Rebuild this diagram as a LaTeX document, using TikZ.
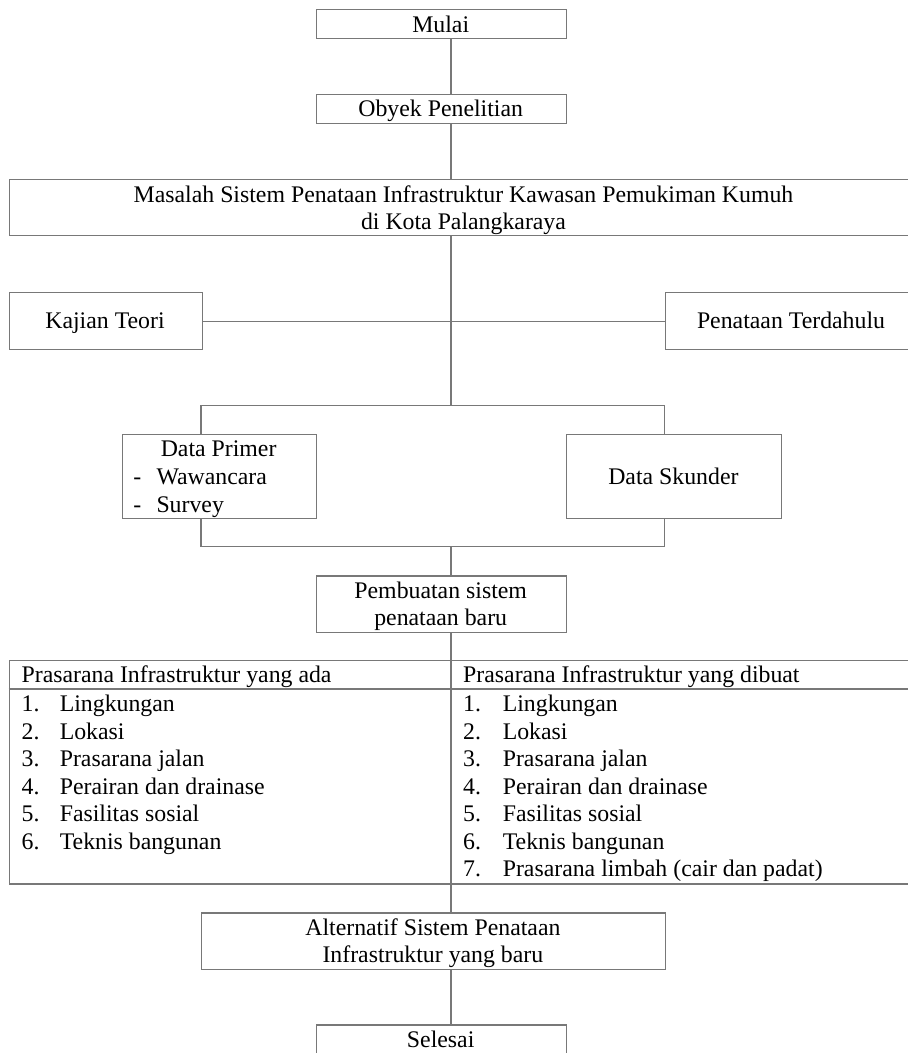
\documentclass[tikz,border=0pt]{standalone}
\usepackage{fontspec}
\setmainfont{Liberation Serif}
\definecolor{linegray}{RGB}{120,120,120}
\begin{document}
\begin{tikzpicture}[x=1pt,y=-1pt,
  ln/.style={draw=linegray, line width=1.3pt},
  box/.style={ln, rectangle, inner sep=0pt, anchor=north west},
  txt/.style={font=\fontsize{23.8}{27.5}\selectfont, inner sep=0pt, anchor=base},
  ltxt/.style={txt, anchor=base west}]
\useasboundingbox (0,0) rectangle (908,1053);
\clip (0,0) rectangle (908,1053);
\fill[white] (0,0) rectangle (908,1053);
% boxes
\node[box, minimum width=250.1pt, minimum height=28.7pt] (mulai) at (315.6,9) {};
\node[box, minimum width=250.1pt, minimum height=29pt] (obyek) at (315.6,94) {};
\node[box, minimum width=909.3pt, minimum height=56pt] (masalah) at (8.7,179) {};
\node[box, minimum width=192.8pt, minimum height=57pt] (kajian) at (8.7,292) {};
\node[box, minimum width=253.3pt, minimum height=57pt] (terdahulu) at (664.7,292) {};
\node[box, minimum width=194pt, minimum height=84.3pt] (primer) at (121.6,433.7) {};
\node[box, minimum width=215.3pt, minimum height=84.3pt] (skunder) at (565.7,433.7) {};
\node[box, minimum width=250.1pt, minimum height=56.4pt] (pembuatan) at (315.6,575.3) {};
\node[box, minimum width=909.3pt, minimum height=223.3pt] (tabel) at (8.7,660) {};
\node[box, minimum width=463.7pt, minimum height=56.4pt] (alternatif) at (201,912.3) {};
\node[box, minimum width=250.1pt, minimum height=50pt] (selesai) at (315.6,1024.3) {};
% helper coordinates
\coordinate (sp) at (451,0);
\coordinate (lb) at (201,405.3);
\coordinate (rb) at (664.7,405.3);
\coordinate (lbb) at (201,546.7);
\coordinate (rbb) at (664.7,546.7);
\coordinate (hd) at (0,689);
% connectors
\draw[ln] (mulai.south -| sp) -- (obyek.north -| sp);
\draw[ln] (obyek.south -| sp) -- (masalah.north -| sp);
\draw[ln] (masalah.south -| sp) -- (sp |- lb);
\draw[ln] (kajian.east) -- (terdahulu.west);
\draw[ln] (primer.north -| lb) -- (lb) -- (rb) -- (skunder.north -| rb);
\draw[ln] (primer.south -| lb) -- (lbb) -- (rbb) -- (skunder.south -| rb);
\draw[ln] (sp |- lbb) -- (pembuatan.north -| sp);
\draw[ln] (pembuatan.south -| sp) -- (tabel.north -| sp);
\draw[ln] (tabel.north -| sp) -- (tabel.south -| sp);
\draw[ln] (tabel.west |- hd) -- (tabel.east |- hd);
\draw[ln] (tabel.south -| sp) -- (alternatif.north -| sp);
\draw[ln] (alternatif.south -| sp) -- (selesai.north -| sp);
% texts
\node[txt] (tmulai) at (440.7,32.3) {Mulai};
\node[txt] (tobyek) at (440.7,116.7) {Obyek Penelitian};
\node[txt] (tmas1) at (463.5,202) {Masalah Sistem Penataan Infrastruktur Kawasan Pemukiman Kumuh};
\node[txt] (tmas2) at (463.5,229.5) {di Kota Palangkaraya};
\node[txt] (tkaj) at (105,328.3) {Kajian Teori};
\node[txt] (tter) at (791,328.3) {Penataan Terdahulu};
\node[txt] (tdp) at (218.6,456.7) {Data Primer};
\node[ltxt] (tdpa) at (133.2,484.5) {-};
\node[ltxt] (tdpb) at (156.3,484.5) {Wawancara};
\node[ltxt] (tdpc) at (133.2,512.2) {-};
\node[ltxt] (tdpd) at (156.3,512.2) {Survey};
\node[txt] (tds) at (673.4,484.5) {Data Skunder};
\node[txt] (tpb1) at (440.7,598.3) {Pembuatan sistem};
\node[txt] (tpb2) at (440.7,625.5) {penataan baru};
\node[ltxt] (thl) at (21.4,682.3) {Prasarana Infrastruktur yang ada};
\node[ltxt] (thr) at (463,682.3) {Prasarana Infrastruktur yang dibuat};
\foreach \t [count=\i] in {Lingkungan, Lokasi, Prasarana jalan, Perairan dan drainase, Fasilitas sosial, Teknis bangunan} {
  \node[ltxt] (lnum\i) at (21.4,{711.7+27.5*(\i-1)}) {\i.};
  \node[ltxt] (litem\i) at (59.6,{711.7+27.5*(\i-1)}) {\t};
}
\foreach \t [count=\i] in {Lingkungan, Lokasi, Prasarana jalan, Perairan dan drainase, Fasilitas sosial, Teknis bangunan, Prasarana limbah (cair dan padat)} {
  \node[ltxt] (rnum\i) at (463,{711.7+27.5*(\i-1)}) {\i.};
  \node[ltxt] (ritem\i) at (502.6,{711.7+27.5*(\i-1)}) {\t};
}
\node[txt] (talt1) at (432.9,935.7) {Alternatif Sistem Penataan};
\node[txt] (talt2) at (432.9,962.7) {Infrastruktur yang baru};
\node[txt] (tsel) at (440.7,1047.7) {Selesai};
\end{tikzpicture}
\end{document}
